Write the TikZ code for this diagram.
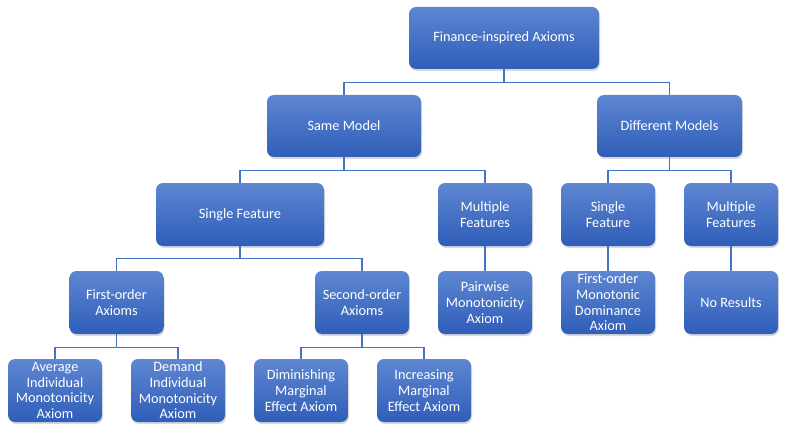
\documentclass[tikz,border=0pt]{standalone}
\usepackage{fontspec}
\setmainfont{Carlito}
\usetikzlibrary{shadows}
\definecolor{boxtop}{HTML}{5E86D1}
\definecolor{boxbottom}{HTML}{2F5EB9}
\definecolor{linkblue}{HTML}{4472C4}
\begin{document}
\begin{tikzpicture}[x=1pt,y=-1pt,
  axbox/.style={rounded corners=7pt, top color=boxtop, bottom color=boxbottom,
    draw=none, text=white, align=center, inner sep=2pt,
    minimum width=94pt, minimum height=63pt,
    font=\fontsize{14.3}{15.7}\selectfont,
    drop shadow={opacity=0.3, shadow xshift=1pt, shadow yshift=-2pt}},
  link/.style={draw=linkblue, line width=1.3pt}]
\useasboundingbox (0,0) rectangle (787,433);

% levels from top to bottom
\node[axbox, minimum width=190pt, minimum height=62pt] (root) at (504,38) {Finance-inspired Axioms};

\node[axbox, minimum width=154pt, minimum height=62pt] (same) at (344,126) {Same Model};
\node[axbox, minimum width=145pt, minimum height=62pt] (diff) at (669.5,126) {Different Models};

\node[axbox, minimum width=168pt] (single) at (240,214.5) {Single Feature};
\node[axbox] (multi) at (485,214.5) {Multiple\\Features};
\node[axbox] (dsingle) at (608,214.5) {Single\\Feature};
\node[axbox] (dmulti) at (731,214.5) {Multiple\\Features};

\node[axbox] (first) at (116.5,302.5) {First-order\\Axioms};
\node[axbox] (second) at (362,302.5) {Second-order\\Axioms};
\node[axbox] (pair) at (485,302.5) {Pairwise\\Monotonicity\\Axiom};
\node[axbox] (dom) at (608,302.5) {First-order\\Monotonic\\Dominance\\Axiom};
\node[axbox] (nores) at (731,302.5) {No Results};

\node[axbox] (avg) at (55,390.5) {Average\\Individual\\Monotonicity\\Axiom};
\node[axbox] (dem) at (178,390.5) {Demand\\Individual\\Monotonicity\\Axiom};
\node[axbox] (dimin) at (301,390.5) {Diminishing\\Marginal\\Effect Axiom};
\node[axbox] (incr) at (424,390.5) {Increasing\\Marginal\\Effect Axiom};

% elbow connectors
\draw[link] (root.south) -- ++(0,13) -| (same.north);
\draw[link] (root.south) -- ++(0,13) -| (diff.north);
\draw[link] (same.south) -- ++(0,13) -| (single.north);
\draw[link] (same.south) -- ++(0,13) -| (multi.north);
\draw[link] (diff.south) -- ++(0,13) -| (dsingle.north);
\draw[link] (diff.south) -- ++(0,13) -| (dmulti.north);
\draw[link] (single.south) -- ++(0,12.5) -| (first.north);
\draw[link] (single.south) -- ++(0,12.5) -| (second.north);
\draw[link] (multi) -- (pair);
\draw[link] (dsingle) -- (dom);
\draw[link] (dmulti) -- (nores);
\draw[link] (first.south) -- ++(0,13.5) -| (avg.north);
\draw[link] (first.south) -- ++(0,13.5) -| (dem.north);
\draw[link] (second.south) -- ++(0,13.5) -| (dimin.north);
\draw[link] (second.south) -- ++(0,13.5) -| (incr.north);
\end{tikzpicture}
\end{document}
